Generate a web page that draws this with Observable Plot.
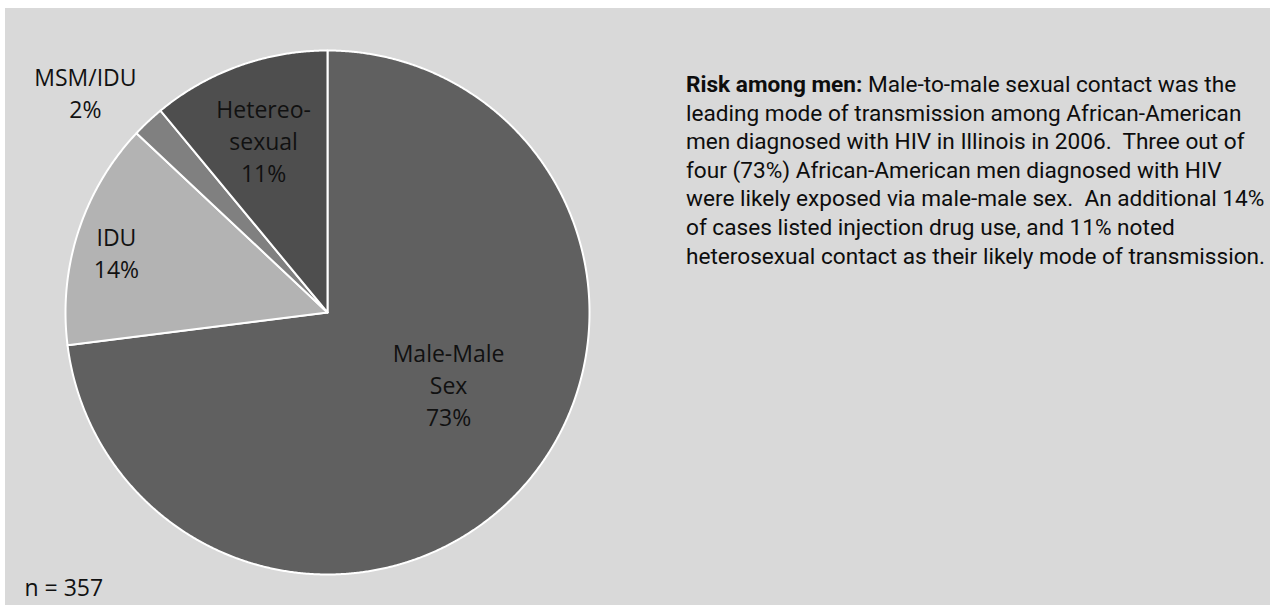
<!DOCTYPE html>
<html>
<head>
<meta charset="utf-8">
<script src="https://cdn.jsdelivr.net/npm/d3@7"></script>
<script src="https://cdn.jsdelivr.net/npm/@observablehq/plot@0.6"></script>
<style>
  html, body { margin: 0; padding: 0; background: #ffffff; width: 1270px; height: 605px; overflow: hidden; }
  #panel { position: absolute; left: 5px; top: 8px; width: 1265px; height: 597px; background: #d9d9d9; }
  #note {
    position: absolute; left: 681px; top: 63px;
    font-family: Roboto, "Liberation Sans", sans-serif;
    font-size: 22px; line-height: 28.6px; color: #0d0d0d; white-space: pre;
    transform-origin: 0 0; display: inline-block;
  }
  #note b { font-weight: bold; }
</style>
</head>
<body>
<div id="panel">
  <div id="chart"></div>
  <div id="note"></div>
</div>
<script>
// ---- data ----
const categories = ["Male-Male Sex", "IDU", "MSM/IDU", "Hetereo-sexual"];
const labelNames = ["Male-Male\nSex", "IDU", "MSM/IDU", "Hetereo-\nsexual"];
const percents = [73, 14, 2, 11];
const sliceColors = ["#606060", "#b3b3b3", "#808080", "#4e4e4e"];
const sampleNote = "n = 357";
const noteTitle = "Risk among men:";
const noteLines = [
  " Male-to-male sexual contact was the",
  "leading mode of transmission among African-American",
  "men diagnosed with HIV in Illinois in 2006.  Three out of",
  "four (73%) African-American men diagnosed with HIV",
  "were likely exposed via male-male sex.  An additional 14%",
  "of cases listed injection drug use, and 11% noted",
  "heterosexual contact as their likely mode of transmission."
];

// label placement factors (relative to slice mid-angle)
const labelRadiusX = [0.616, 0.847, 1.35, 0.72];
const labelRadiusY = [0.41, 0.753, 1.157, 0.70];

// ---- build geometry ----
const rows = categories.map((c, i) => ({key: c, value: percents[i], idx: i}));
const arcs = d3.pie().sort(null).value(d => d.value)(rows);

const polys = [];
arcs.forEach(a => {
  const key = a.data.key;
  polys.push({key, x: 0, y: 0});
  const n = Math.max(2, Math.ceil((a.endAngle - a.startAngle) / 0.005));
  for (let k = 0; k <= n; k++) {
    const t = a.startAngle + (a.endAngle - a.startAngle) * k / n;
    polys.push({key, x: Math.sin(t), y: Math.cos(t)});
  }
  polys.push({key, x: 0, y: 0});
});

const labels = arcs.map(a => {
  const i = a.data.idx;
  const m = (a.startAngle + a.endAngle) / 2;
  return {
    x: labelRadiusX[i] * Math.sin(m),
    y: labelRadiusY[i] * Math.cos(m),
    text: `${labelNames[i]}\n${percents[i]}%`
  };
});

const W = 1265, H = 597;
const cx = 322, cy = 304, R = 262;

const chart = Plot.plot({
  width: W, height: H,
  margin: 0,
  style: {background: "transparent", overflow: "visible"},
  x: {domain: [-1, 1], range: [cx - R, cx + R], axis: null},
  y: {domain: [-1, 1], range: [cy + R, cy - R], axis: null},
  color: {domain: categories, range: sliceColors},
  marks: [
    Plot.line(polys, {x: "x", y: "y", z: "key", fill: "key", stroke: "#ffffff", strokeWidth: 2, strokeLinejoin: "round"}),
    Plot.text(labels, {x: "x", y: "y", text: "text", fontSize: 23, lineHeight: 1.4, fill: "#111",
      fontFamily: "'Open Sans', 'Noto Sans', sans-serif"}),
    Plot.text([sampleNote], {text: d => d, frameAnchor: "bottom-left", textAnchor: "start", dx: 19, dy: -10,
      fontSize: 23, fill: "#111", fontFamily: "'Open Sans', 'Noto Sans', sans-serif"})
  ]
});
document.getElementById("chart").appendChild(chart);

const note = document.getElementById("note");
noteLines.forEach((line, i) => {
  const div = document.createElement("div");
  if (i === 0) {
    const b = document.createElement("b");
    b.textContent = noteTitle;
    div.appendChild(b);
  }
  div.appendChild(document.createTextNode(line));
  note.appendChild(div);
});
// fit the block to the width of the original paragraph
const targetWidth = 579;
const w = note.getBoundingClientRect().width;
if (w > 0) note.style.transform = `scaleX(${targetWidth / w})`;
</script>
</body>
</html>
